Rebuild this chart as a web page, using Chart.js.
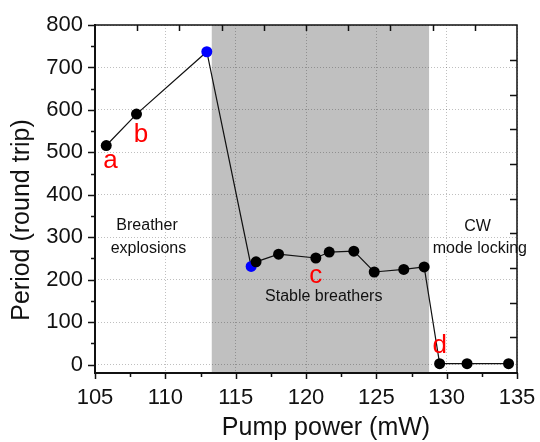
<!DOCTYPE html>
<html>
<head>
<meta charset="utf-8">
<script src="https://cdn.jsdelivr.net/npm/chart.js@4/dist/chart.umd.min.js"></script>
<style>
  html, body { margin: 0; padding: 0; background: #fff; }
</style>
</head>
<body>
<canvas id="periodChart" width="540" height="442"></canvas>
<script>
// measured points (pump power in mW, period in round trips)
const pumpPower = [105.8, 107.95, 112.95, 116.1, 116.45, 118.05, 120.7, 121.65, 123.4, 124.85, 126.95, 128.4, 129.5, 131.45, 134.4];
const period = [516, 590, 737, 231, 242, 260, 251, 265, 267, 218, 224, 230, 2, 2, 2];
const pointColors = ['#000', '#000', '#0000ff', '#0000ff', '#000', '#000', '#000', '#000', '#000', '#000', '#000', '#000', '#000', '#000', '#000'];

// axis ticks
const xTicks = [105, 110, 115, 120, 125, 130, 135];
const yTicks = [0, 100, 200, 300, 400, 500, 600, 700, 800];

// shaded "stable breathers" range
const stableRange = [113.3, 128.75];

// red letters near the points
const letterText = ['a', 'b', 'c', 'd'];
const letterX = [106.1, 108.27, 120.69, 129.5];
const letterY = [463, 525, 192, 26];

// black notes
const noteText = ['Breather', 'explosions', 'Stable breathers', 'CW', 'mode locking'];
const noteX = [108.7, 108.8, 121.26, 132.19, 132.36];
const noteY = [316, 263.5, 149, 313.6, 263];

// ticks of the twin axes (top and right)
const topTicks = [108, 111, 114, 117, 120, 123, 126, 129, 132];
const rightTicks = [718, 636, 554, 472, 391, 310, 228, 146, 64];

const FONT = "Arial, 'Liberation Sans', sans-serif";

const decor = {
    id: 'decor',
    beforeDraw(chart) {
        const { ctx, chartArea: a, scales: { x } } = chart;
        ctx.save();
        ctx.fillStyle = '#fff';
        ctx.fillRect(0, 0, chart.width, chart.height);
        const x0 = x.getPixelForValue(stableRange[0]);
        const x1 = x.getPixelForValue(stableRange[1]);
        ctx.fillStyle = '#c0c0c0';
        ctx.fillRect(x0, a.top, x1 - x0, a.bottom - a.top);
        ctx.restore();
    },
    afterDatasetsDraw(chart) {
        const { ctx, scales: { x, y } } = chart;
        ctx.save();
        ctx.textAlign = 'center';
        ctx.textBaseline = 'alphabetic';
        ctx.fillStyle = '#ff0000';
        ctx.font = '26px ' + FONT;
        letterText.forEach((t, i) => {
            ctx.fillText(t, x.getPixelForValue(letterX[i]), y.getPixelForValue(letterY[i]));
        });
        ctx.fillStyle = '#111';
        ctx.font = '16px ' + FONT;
        noteText.forEach((t, i) => {
            ctx.fillText(t, x.getPixelForValue(noteX[i]), y.getPixelForValue(noteY[i]));
        });
        ctx.restore();
    },
    afterDraw(chart) {
        const { ctx, chartArea: a, scales: { x, y } } = chart;
        ctx.save();
        ctx.strokeStyle = '#111';

        // frame
        ctx.lineWidth = 1.5;
        ctx.beginPath();
        ctx.moveTo(a.left, a.top);
        ctx.lineTo(a.right, a.top);
        ctx.lineTo(a.right, a.bottom);
        ctx.stroke();
        ctx.lineWidth = 2;
        ctx.beginPath();
        ctx.moveTo(a.left, a.top - 1);
        ctx.lineTo(a.left, a.bottom);
        ctx.lineTo(a.right + 1, a.bottom);
        ctx.stroke();

        // left ticks (outward), major + minor
        ctx.lineWidth = 1.5;
        ctx.beginPath();
        const yt = y.ticks.map(t => t.value);
        yt.forEach((v, i) => {
            const py = Math.round(y.getPixelForValue(v)) + 0.5;
            ctx.moveTo(a.left - 7, py); ctx.lineTo(a.left, py);
            if (i > 0) {
                const pm = Math.round(y.getPixelForValue((v + yt[i - 1]) / 2)) + 0.5;
                ctx.moveTo(a.left - 4, pm); ctx.lineTo(a.left, pm);
            }
        });
        // bottom ticks (outward)
        const xt = x.ticks.map(t => t.value);
        xt.forEach((v, i) => {
            const px = Math.round(x.getPixelForValue(v)) + 0.5;
            ctx.moveTo(px, a.bottom); ctx.lineTo(px, a.bottom + 6);
            if (i > 0) {
                const pm = Math.round(x.getPixelForValue((v + xt[i - 1]) / 2)) + 0.5;
                ctx.moveTo(pm, a.bottom); ctx.lineTo(pm, a.bottom + 4);
            }
        });
        // top ticks (inward)
        topTicks.forEach(v => {
            const px = Math.round(x.getPixelForValue(v)) + 0.5;
            ctx.moveTo(px, a.top); ctx.lineTo(px, a.top + 6);
        });
        // right ticks (inward)
        rightTicks.forEach(v => {
            const py = Math.round(y.getPixelForValue(v)) + 0.5;
            ctx.moveTo(a.right, py); ctx.lineTo(a.right - 7, py);
        });
        ctx.stroke();

        // axis titles
        ctx.fillStyle = '#111';
        ctx.font = '25px ' + FONT;
        ctx.textAlign = 'center';
        ctx.textBaseline = 'alphabetic';
        ctx.fillText('Pump power (mW)', (a.left + a.right) / 2 + 20, a.bottom + 62);
        ctx.translate(29, (a.top + a.bottom) / 2 + 21);
        ctx.rotate(-Math.PI / 2);
        ctx.fillText('Period (round trip)', 0, 0);
        ctx.restore();
    }
};

const periodChart = new Chart(document.getElementById('periodChart').getContext('2d'), {
    type: 'scatter',
    data: {
        datasets: [{
            data: pumpPower.map((p, i) => ({ x: p, y: period[i] })),
            showLine: true,
            borderColor: '#111',
            borderWidth: 1.2,
            pointRadius: 5.5,
            pointHoverRadius: 5.5,
            pointBorderWidth: 0,
            pointBackgroundColor: pointColors,
            pointBorderColor: pointColors
        }]
    },
    options: {
        responsive: false,
        devicePixelRatio: 1,
        animation: false,
        layout: { padding: { top: 25, right: 23, left: 0, bottom: 0 } },
        plugins: {
            legend: { display: false },
            tooltip: { enabled: false }
        },
        scales: {
            x: {
                type: 'linear',
                min: 105,
                max: 135,
                afterBuildTicks: s => { s.ticks = xTicks.map(v => ({ value: v })); },
                afterFit: s => { s.height = 69; s.paddingLeft = 0; s.paddingRight = 0; },
                ticks: { maxRotation: 0, padding: 12, color: '#111', font: { size: 22, family: FONT } },
                grid: { color: 'rgba(0,0,0,0.25)', drawTicks: false },
                border: { display: false, dash: [1, 2] }
            },
            y: {
                min: -20,
                max: 800,
                afterBuildTicks: s => { s.ticks = yTicks.map(v => ({ value: v })); },
                afterFit: s => { s.width = 95; s.paddingTop = 0; s.paddingBottom = 0; },
                ticks: { padding: 12, color: '#111', font: { size: 22, family: FONT } },
                grid: { color: 'rgba(0,0,0,0.25)', drawTicks: false },
                border: { display: false, dash: [1, 2] }
            }
        }
    },
    plugins: [decor]
});
</script>
</body>
</html>
